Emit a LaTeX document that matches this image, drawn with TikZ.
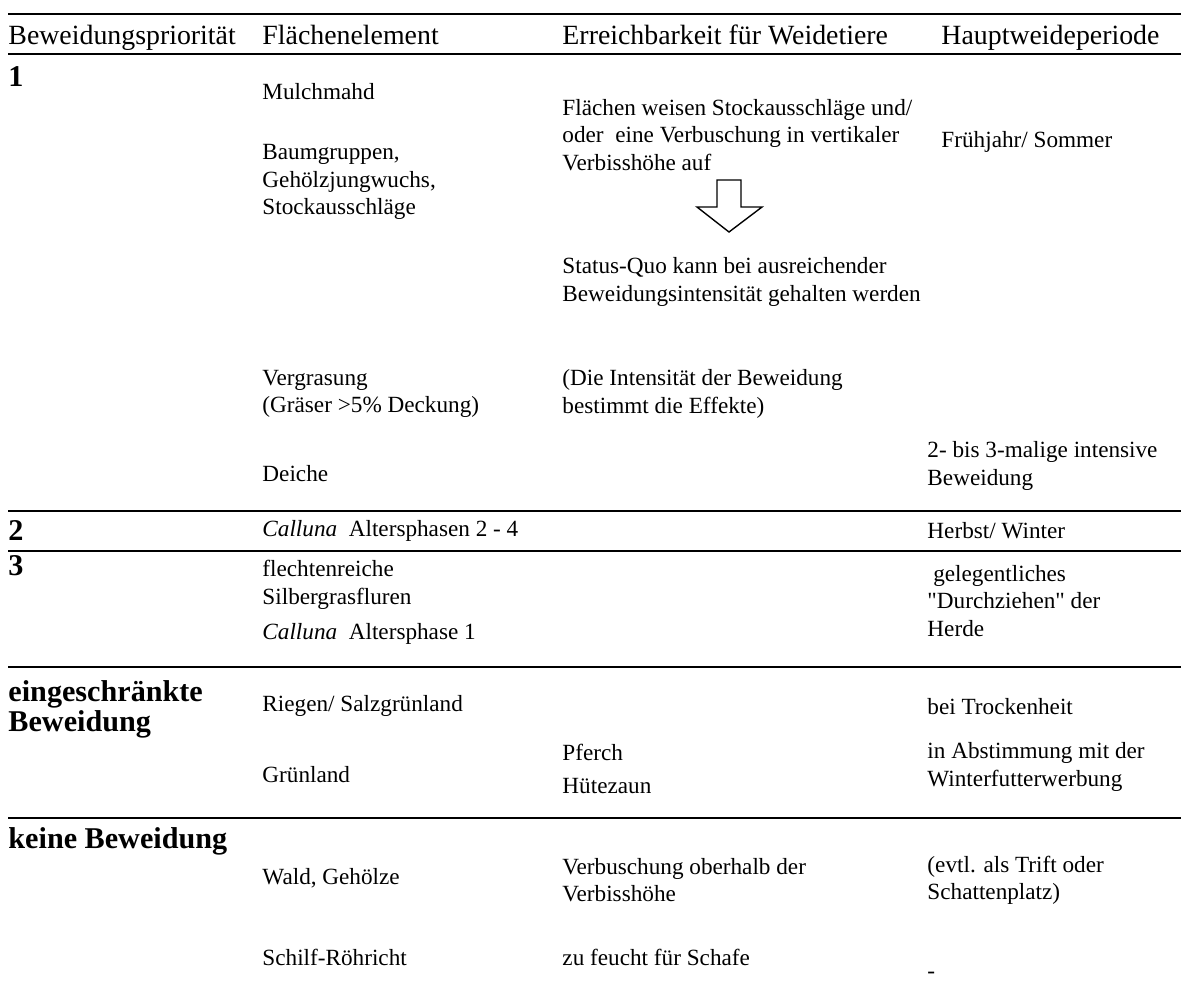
\documentclass[tikz,border=0pt]{standalone}
\usepackage{fontspec}
\setmainfont{Liberation Serif}[Ligatures=TeXOff]
\usepackage{tikz}

\tikzset{
  cell/.style={anchor=west, inner sep=0pt, align=left, font=\fontsize{10}{11.8}\selectfont},
  head/.style={anchor=base west, inner sep=0pt, font=\fontsize{12}{14}\selectfont},
  prio/.style={anchor=west, inner sep=0pt, align=left, font=\fontsize{13}{12.8}\selectfont\bfseries},
  rule/.style={line width=1.2pt}
}

\begin{document}
\begin{tikzpicture}[x=0.431pt, y=-0.431pt]
  \useasboundingbox (0,0) rectangle (1181,989);
  % rules
  \draw[rule] (8,14) -- (1181,14);
  \draw[rule] (8,54) -- (1181,54);
  \draw[rule] (8,511) -- (1181,511);
  \draw[rule] (8,551) -- (1181,551);
  \draw[rule] (8,667) -- (1181,667);
  \draw[rule] (8,818) -- (1181,818);
  % header
  \node[head] (hprio) at (8,44) {Beweidungspriorität};
  \node[head] (helem) at (262,44) {Flächenelement};
  \node[head] (hreach) at (562,44) {Erreichbarkeit für Weidetiere};
  \node[head] (hperiod) at (941,44) {Hauptweideperiode};
  % priority 1
  \node[prio] (p1) at (8,77) {1};
  \node[cell] (mulch) at (262,92) {Mulchmahd};
  \node[cell] (baum) at (262,182) {Baumgruppen,\\Gehölzjungwuchs,\\Stockausschläge};
  \node[cell] (vergras) at (262,394) {Vergrasung\\(Gräser >5\% Deckung)};
  \node[cell] (deiche) at (262,474) {Deiche};
  \node[cell] (flaechen) at (562,135) {Flächen weisen Stockausschläge und/\\oder \ eine Verbuschung in vertikaler\\Verbisshöhe auf};
  \draw[line width=0.6pt] (717,180) -- (741,180) -- (741,207) -- (762,207)
    -- (729,232) -- (697,207) -- (717,207) -- cycle;
  \node[cell] (status) at (562,282) {Status-Quo kann bei ausreichender\\Beweidungsintensität gehalten werden};
  \node[cell] (intens) at (562,394) {(Die Intensität der Beweidung\\bestimmt die Effekte)};
  \node[cell] (fruehjahr) at (941,142) {Frühjahr/ Sommer};
  \node[cell] (dreimal) at (927,466) {2- bis 3-malige intensive\\Beweidung};
  % priority 2
  \node[prio] (p2) at (8,531) {2};
  \node[cell] (calluna24) at (262,531) {\textit{Calluna}\ \ Altersphasen 2 - 4};
  \node[cell] (herbst) at (927,531) {Herbst/ Winter};
  % priority 3
  \node[prio] (p3) at (8,566) {3};
  \node[cell] (flechten) at (262,585) {flechtenreiche\\Silbergrasfluren};
  \node[cell] (calluna1) at (262,634) {\textit{Calluna}\ \ Altersphase 1};
  \node[cell] (gelegent) at (927,601) {\ gelegentliches\\"Durchziehen" der\\Herde};
  % eingeschraenkte Beweidung
  \node[prio] (eing) at (8,709) {eingeschränkte\\Beweidung};
  \node[cell] (riegen) at (262,706) {Riegen/ Salzgrünland};
  \node[cell] (trocken) at (927,707) {bei Trockenheit};
  \node[cell] (gruen) at (262,775) {Grünland};
  \node[cell] (pferch) at (562,752) {Pferch};
  \node[cell] (huete) at (562,786) {Hütezaun};
  \node[cell] (abstimm) at (927,767) {in Abstimmung mit der\\Winterfutterwerbung};
  % keine Beweidung
  \node[prio] (keine) at (8,841) {keine Beweidung};
  \node[cell] (wald) at (262,878) {Wald, Gehölze};
  \node[cell] (verbusch) at (562,880) {Verbuschung oberhalb der\\Verbisshöhe};
  \node[cell] (trift) at (927,880) {(evtl. als Trift oder\\Schattenplatz)};
  \node[cell] (schilf) at (262,957) {Schilf-Röhricht};
  \node[cell] (feucht) at (562,957) {zu feucht für Schafe};
  \node[cell] (dash) at (927,975) {-};
\end{tikzpicture}
\end{document}
